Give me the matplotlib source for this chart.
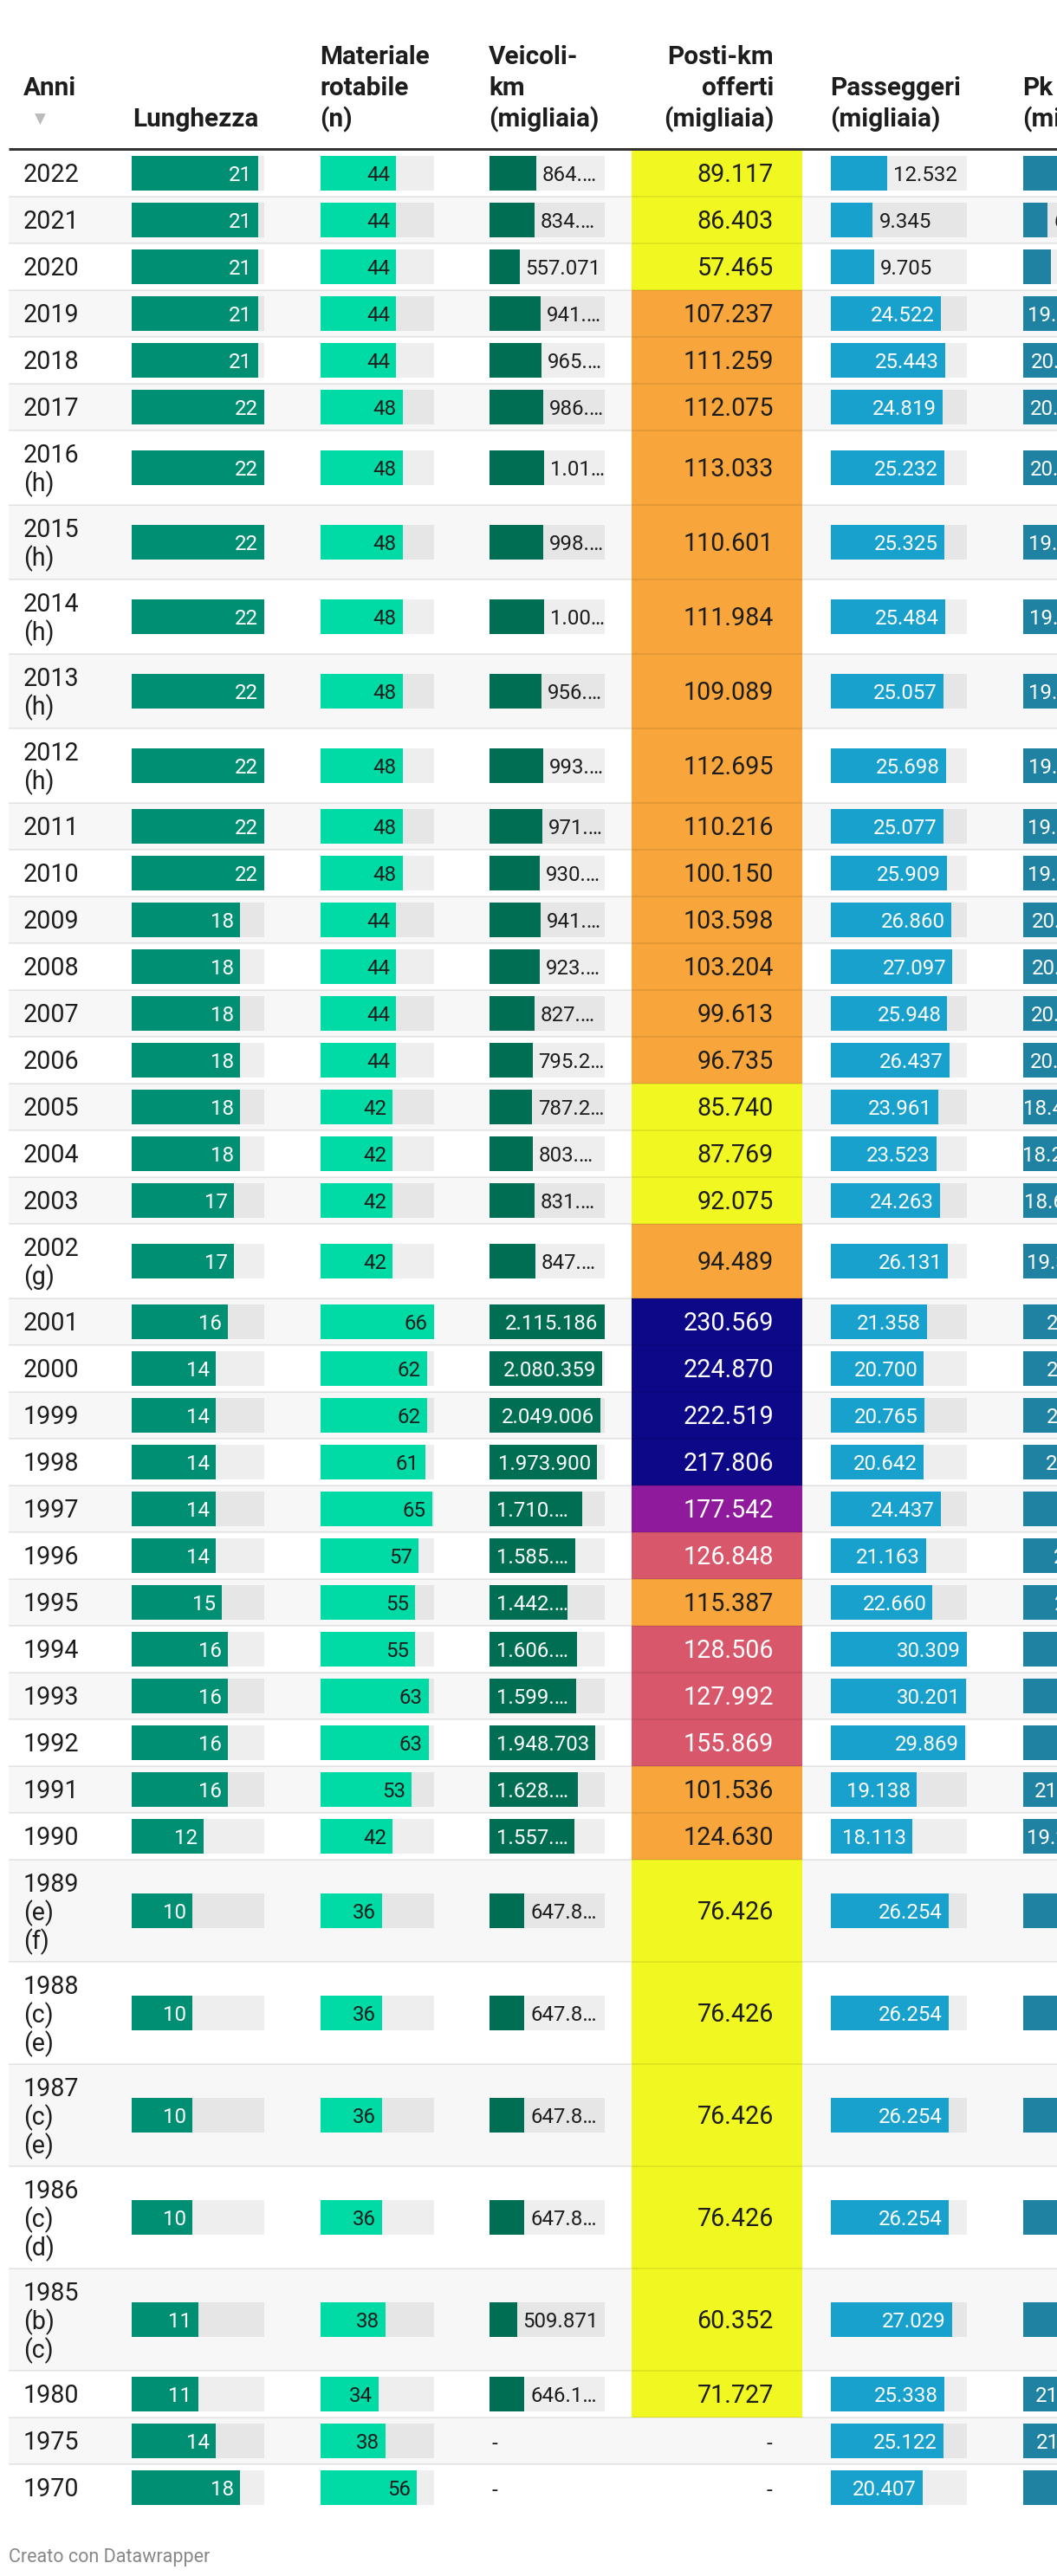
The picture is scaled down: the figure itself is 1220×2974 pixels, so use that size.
import numpy as np
import matplotlib.pyplot as plt

plt.rcParams['font.family'] = ['Roboto', 'DejaVu Sans']

anni = ["2022", "2021", "2020", "2019", "2018", "2017",
        "2016\n(h)", "2015\n(h)", "2014\n(h)", "2013\n(h)", "2012\n(h)",
        "2011", "2010", "2009", "2008", "2007", "2006", "2005", "2004", "2003",
        "2002\n(g)", "2001", "2000", "1999", "1998", "1997", "1996", "1995",
        "1994", "1993", "1992", "1991", "1990",
        "1989\n(e)\n(f)", "1988\n(c)\n(e)", "1987\n(c)\n(e)", "1986\n(c)\n(d)",
        "1985\n(b)\n(c)", "1980", "1975", "1970"]

lunghezza = [21, 21, 21, 21, 21, 22, 22, 22, 22, 22, 22, 22, 22, 18, 18, 18, 18,
             18, 18, 17, 17, 16, 14, 14, 14, 14, 14, 15, 16, 16, 16, 16, 12,
             10, 10, 10, 10, 11, 11, 14, 18]

materiale = [44, 44, 44, 44, 44, 48, 48, 48, 48, 48, 48, 48, 48, 44, 44, 44, 44,
             42, 42, 42, 42, 66, 62, 62, 61, 65, 57, 55, 55, 63, 63, 53, 42,
             36, 36, 36, 36, 38, 34, 38, 56]

# veicoli-km (migliaia); truncated ones
veicoli = [864000, 834000, 557071, 941000, 965000, 986000, 1010000, 998000,
           1004000, 956000, 993000, 971000, 930000, 941000, 923000, 827000,
           795200, 787200, 803000, 831000, 847000, 2115186, 2080359, 2049006,
           1973900, 1710000, 1585000, 1442000, 1606000, 1599000, 1948703,
           1628000, 1557000, 647800, 647800, 647800, 647800, 509871, 646100,
           None, None]
veicoli_lbl = ["864.…", "834.…", "557.071", "941.…", "965.…", "986.…", "1.01…",
               "998.…", "1.00…", "956.…", "993.…", "971.…", "930.…", "941.…",
               "923.…", "827.…", "795.2…", "787.2…", "803.…", "831.…", "847.…",
               "2.115.186", "2.080.359", "2.049.006", "1.973.900", "1.710.…",
               "1.585.…", "1.442.…", "1.606.…", "1.599.…", "1.948.703",
               "1.628.…", "1.557.…", "647.8…", "647.8…", "647.8…", "647.8…",
               "509.871", "646.1…", "-", "-"]

posti = [89.117, 86.403, 57.465, 107.237, 111.259, 112.075, 113.033, 110.601,
         111.984, 109.089, 112.695, 110.216, 100.150, 103.598, 103.204, 99.613,
         96.735, 85.740, 87.769, 92.075, 94.489, 230.569, 224.870, 222.519,
         217.806, 177.542, 126.848, 115.387, 128.506, 127.992, 155.869,
         101.536, 124.630, 76.426, 76.426, 76.426, 76.426, 60.352, 71.727,
         None, None]

passeggeri = [12.532, 9.345, 9.705, 24.522, 25.443, 24.819, 25.232, 25.325,
              25.484, 25.057, 25.698, 25.077, 25.909, 26.860, 27.097, 25.948,
              26.437, 23.961, 23.523, 24.263, 26.131, 21.358, 20.700, 20.765,
              20.642, 24.437, 21.163, 22.660, 30.309, 30.201, 29.869, 19.138,
              18.113, 26.254, 26.254, 26.254, 26.254, 27.029, 25.338, 25.122,
              20.407]

# Pk column is cut off at the right edge: values estimated
pk = [11.5, 6.35, 7.2, 19.5, 20.3, 20.1, 20.2, 19.8, 19.9, 19.6, 19.7, 19.5,
      19.4, 20.5, 20.6, 20.3, 20.1, 18.4, 18.2, 18.6, 19.3, 24.5, 24.4, 24.5,
      24.3, 30.0, 26.2, 26.4, 31.0, 30.8, 30.5, 21.2, 19.2, 28.5, 28.5, 28.5,
      28.5, 28.8, 21.4, 21.6, 27.0]

headers = ["Anni", "Lunghezza", "Materiale\nrotabile\n(n)", "Veicoli-\nkm\n(migliaia)",
           "Posti-km\nofferti\n(migliaia)", "Passeggeri\n(migliaia)", "Pk\n(migliaia)"]

# ---- styling ----
W, H = 1220, 2974
DARK = "#1d1d1d"
BODY = 20.6
SMALL = 17.3
HEAD = 21.4
px = 100 / 72

fig = plt.figure(figsize=(W / 100, H / 100), dpi=100)
ax = fig.add_axes([0, 0, 1, 1])
ax.set_xlim(0, W)
ax.set_ylim(H, 0)
ax.axis('off')

def fmt(v):
    return f"{v:.3f}"

def posti_color(v):
    if v < 93:
        return "#f0f721"
    if v < 125.5:
        return "#f8a53b"
    if v < 170:
        return "#d8576b"
    if v < 200:
        return "#8f1a9c"
    return "#0d0887"

# row geometry
nlines = [a.count("\n") + 1 for a in anni]
heights = np.array([54 + 32 * (n - 1) for n in nlines])
tops = 173 + np.concatenate([[0], np.cumsum(heights)[:-1]])
centers = tops + heights / 2

# row backgrounds
for i in range(len(anni)):
    if i % 2 == 1:
        ax.axhspan(tops[i], tops[i] + heights[i], xmin=10 / W, xmax=1, color="#f7f7f7", lw=0, zorder=0)

# posti-km coloured cells
for i, v in enumerate(posti):
    if v is not None:
        ax.axhspan(tops[i], tops[i] + heights[i], xmin=729 / W, xmax=926 / W,
                   color=posti_color(v), lw=0, zorder=1)

# separators
for i in range(1, len(anni)):
    ax.plot([10, W], [tops[i], tops[i]], color=(0, 0, 0, 0.075), lw=2 * 72 / 100, zorder=2,
            solid_capstyle='butt')

# header rule
ax.plot([10, W], [171.5, 171.5], color="#333333", lw=3 * 72 / 100, zorder=3, solid_capstyle='butt')

# headers
hx = [27, 153, 369, 564, 893, 958, 1180]
for j, h in enumerate(headers):
    lines = h.split("\n")
    base = [74, 110, 146][3 - len(lines):] if j != 0 else [110]
    if j == 1:
        base = [146]
    for k, ln in enumerate(lines):
        ax.text(hx[j], base[k], ln, fontsize=HEAD, fontweight='bold', color=DARK,
                ha='right' if j == 4 else 'left', va='baseline', zorder=5)
ax.text(46, 138, "▼", fontsize=12, color="#bbbbbb", ha='center', va='center',
        family=['DejaVu Sans'], zorder=5)

# year labels
for i, a in enumerate(anni):
    for k, ln in enumerate(a.split("\n")):
        if nlines[i] == 1:
            yb = centers[i] + 0.355 * BODY * px
        else:
            yb = tops[i] + 27 + 33 * k + 0.355 * BODY * px
        ax.text(27, yb, ln, fontsize=BODY, color=DARK, va='baseline', ha='left', zorder=5)


def bar_column(vals, x0, width, vmax, color, labels, in_color, min_inside, pad=7):
    idx = [i for i, v in enumerate(vals) if v is not None]
    vv = np.array([vals[i] for i in idx], dtype=float)
    cy = centers[idx]
    ax.barh(cy, np.full(len(idx), width), left=x0, height=40, color=(0, 0, 0, 0.068), lw=0, zorder=3)
    ax.barh(cy, vv / vmax * width, left=x0, height=40, color=color, lw=0, zorder=4)
    for i, v, c in zip(idx, vv, cy):
        bw = v / vmax * width
        lbl = labels[i]
        yb = c + 0.355 * SMALL * px
        if bw >= min_inside:
            if lbl.endswith("…"):
                ax.text(x0 + pad + 1, yb, lbl, fontsize=SMALL, color=in_color,
                        ha='left', va='baseline', zorder=6)
            else:
                ax.text(x0 + bw - pad, yb, lbl, fontsize=SMALL, color=in_color,
                        ha='right', va='baseline', zorder=6)
        else:
            ax.text(x0 + bw + pad, yb, lbl, fontsize=SMALL, color=DARK,
                    ha='left', va='baseline', zorder=6)


bar_column(lunghezza, 152, 153, 22, "#008f72", [str(v) for v in lunghezza], "white", 40)
bar_column(materiale, 370, 130.5, 66, "#00dba6", [str(v) for v in materiale], DARK, 40)
bar_column(veicoli, 564.6, 133, 2115186, "#006e52", veicoli_lbl, "white", 75)
bar_column(passeggeri, 959, 157, 30.309, "#18a1cd", [fmt(v) for v in passeggeri], "white", 85)
bar_column(pk, 1181, 157, 35.6, "#1f82a3", [fmt(v) for v in pk], "white", 78)

# dashes for missing veicoli
for i, v in enumerate(veicoli):
    if v is None:
        ax.text(568, centers[i] + 0.355 * BODY * px, "-", fontsize=SMALL, color=DARK,
                ha='left', va='baseline', zorder=6)

# posti-km values
for i, v in enumerate(posti):
    yb = centers[i] + 0.355 * BODY * px
    if v is None:
        ax.text(891, yb, "-", fontsize=SMALL, color=DARK, ha='right', va='baseline', zorder=6)
    else:
        c = "white" if v >= 125.5 else DARK
        ax.text(893, yb, fmt(v), fontsize=BODY, color=c, ha='right', va='baseline', zorder=6)

# footer
ax.text(10, 2958, "Creato con Datawrapper", fontsize=15.5, color="#888888",
        ha='left', va='baseline')

fig.savefig("out.png", dpi=100)
